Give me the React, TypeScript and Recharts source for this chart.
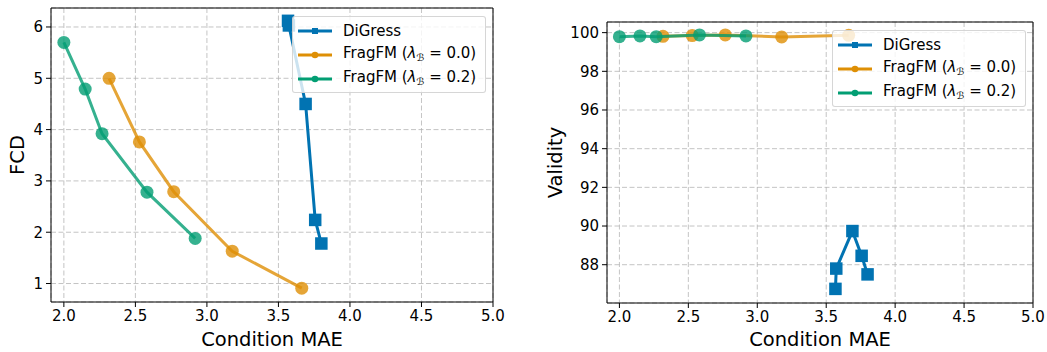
import React from "react";
import { ScatterChart, Scatter, XAxis, YAxis, CartesianGrid, ReferenceArea, Legend } from "recharts";

const FONT = "'DejaVu Sans', sans-serif";

// shared x axis (Condition MAE)
const maeTicks = [2.0, 2.5, 3.0, 3.5, 4.0, 4.5, 5.0];
const maeDomain = [1.91, 5.0];

const fcdTicks = [1, 2, 3, 4, 5, 6];
const fcdDomain = [0.64, 6.37];

const validityTicks = [88, 90, 92, 94, 96, 98, 100];
const validityDomain = [86.02, 100.55];

// DiGress
const digressMae = [3.567, 3.573, 3.69, 3.757, 3.8];
const digressFcd = [6.12, 6.03, 4.5, 2.24, 1.78];
const digressValidity = [86.75, 87.8, 89.74, 88.46, 87.5];

// FragFM, lambda_B = 0.0
const frag00Mae = [2.316, 2.528, 2.768, 3.177, 3.663];
const frag00Fcd = [5.0, 3.76, 2.79, 1.63, 0.91];
const frag00Validity = [99.81, 99.85, 99.88, 99.78, 99.86];

// FragFM, lambda_B = 0.2
const frag02Mae = [2.0, 2.149, 2.267, 2.581, 2.918];
const frag02Fcd = [5.7, 4.79, 3.92, 2.78, 1.88];
const frag02Validity = [99.79, 99.83, 99.79, 99.88, 99.83];

type Marker = "square" | "circle";

interface SeriesDef {
  key: string;
  label: React.ReactNode;
  color: string;
  alpha: number;
  marker: Marker;
  mae: number[];
  fcd: number[];
  validity: number[];
}

const lambdaLabel = (v: string) => (
  <span>
    FragFM (<i>λ</i>
    <sub style={{ fontSize: 10, verticalAlign: -3 }}>ℬ</sub>
    {" = " + v + ")"}
  </span>
);

const series: SeriesDef[] = [
  { key: "digress", label: "DiGress", color: "#0173B2", alpha: 1, marker: "square", mae: digressMae, fcd: digressFcd, validity: digressValidity },
  { key: "frag00", label: lambdaLabel("0.0"), color: "#DE8F05", alpha: 0.8, marker: "circle", mae: frag00Mae, fcd: frag00Fcd, validity: frag00Validity },
  { key: "frag02", label: lambdaLabel("0.2"), color: "#029E73", alpha: 0.8, marker: "circle", mae: frag02Mae, fcd: frag02Fcd, validity: frag02Validity },
];

const toPoints = (xs: number[], ys: number[]) => xs.map((x, i) => ({ x, y: ys[i] }));

const markerShape = (s: SeriesDef) => (props: any) => {
  const { cx, cy } = props;
  if (cx == null || cy == null) return <g />;
  if (s.marker === "square") {
    return <rect x={cx - 6.25} y={cy - 6.25} width={12.5} height={12.5} fill={s.color} fillOpacity={s.alpha} />;
  }
  return <circle cx={cx} cy={cy} r={6.5} fill={s.color} fillOpacity={s.alpha} />;
};

const LegendBox = () => (
  <div
    style={{
      width: 194,
      height: 77,
      boxSizing: "border-box",
      background: "rgba(255,255,255,0.8)",
      border: "1px solid rgba(204,204,204,0.8)",
      borderRadius: 3,
      fontFamily: FONT,
      fontSize: 15,
      color: "#000",
      paddingTop: 2,
    }}
  >
    {series.map((s) => (
      <div key={s.key} style={{ display: "flex", alignItems: "center", height: 24 }}>
        <svg width={50} height={14} style={{ flex: "none" }}>
          <line x1={5} x2={39} y1={7} y2={7} stroke={s.color} strokeWidth={3} />
          {s.marker === "square" ? (
            <rect x={19} y={4} width={6} height={6} fill={s.color} />
          ) : (
            <circle cx={22} cy={7} r={3.3} fill={s.color} />
          )}
        </svg>
        <span style={{ whiteSpace: "nowrap", lineHeight: "16px" }}>{s.label}</span>
      </div>
    ))}
  </div>
);

interface PanelProps {
  metric: "fcd" | "validity";
  yLabel: string;
  yTicks: number[];
  yDomain: number[];
  yAxisWidth: number;
  marginTop: number;
  marginRight: number;
  xAxisHeight: number;
  yLabelX: number;
}

const tickStyle = { fontSize: 15, fill: "#000", fontFamily: FONT };

const Panel: React.FC<PanelProps> = ({ metric, yLabel, yTicks, yDomain, yAxisWidth, marginTop, marginRight, xAxisHeight, yLabelX }) => {
  const width = 520;
  const height = 352;
  const plotRight = width - marginRight;
  return (
    <ScatterChart width={width} height={height} margin={{ top: marginTop, right: marginRight, bottom: 0, left: 0 }}>
      <CartesianGrid stroke="#b0b0b0" strokeOpacity={0.75} strokeDasharray="5 2.5" />
      <XAxis
        type="number"
        dataKey="x"
        domain={maeDomain}
        ticks={maeTicks}
        interval={0}
        allowDataOverflow
        tickFormatter={(v: number) => v.toFixed(1)}
        tick={tickStyle}
        tickLine={{ stroke: "#000" }}
        tickSize={5}
        tickMargin={3}
        axisLine={false}
        height={xAxisHeight}
        label={{
          content: (p: any) => {
            const vb = p.viewBox || {};
            return (
              <text x={vb.x + vb.width / 2} y={339} textAnchor="middle" dominantBaseline="central" fontSize={19.5} fontFamily={FONT} fill="#000">
                Condition MAE
              </text>
            );
          },
        }}
      />
      <YAxis
        type="number"
        dataKey="y"
        domain={yDomain}
        ticks={yTicks}
        interval={0}
        allowDataOverflow
        tick={tickStyle}
        tickLine={{ stroke: "#000" }}
        tickSize={5}
        tickMargin={3}
        axisLine={false}
        width={yAxisWidth}
        label={{
          content: (p: any) => {
            const vb = p.viewBox || {};
            const cy = vb.y + vb.height / 2;
            return (
              <text x={yLabelX} y={cy} transform={`rotate(-90 ${yLabelX} ${cy})`} textAnchor="middle" dominantBaseline="central" fontSize={19.5} fontFamily={FONT} fill="#000">
                {yLabel}
              </text>
            );
          },
        }}
      />
      <ReferenceArea x1={maeDomain[0]} x2={maeDomain[1]} y1={yDomain[0]} y2={yDomain[1]} fill="none" stroke="#000" strokeWidth={1} />
      {series.map((s) => (
        <Scatter
          key={s.key}
          name={s.key}
          data={toPoints(s.mae, s[metric])}
          fill={s.color}
          line={{ stroke: s.color, strokeWidth: 3, strokeOpacity: s.alpha }}
          lineType="joint"
          shape={markerShape(s)}
          isAnimationActive={false}
        />
      ))}
      <Legend
        layout="horizontal"
        verticalAlign="middle"
        align="center"
        content={() => <LegendBox />}
        wrapperStyle={{ position: "absolute", top: marginTop + 8, left: plotRight - 7 - 194, width: 194, height: 77 }}
      />
    </ScatterChart>
  );
};

export default function App() {
  return (
    <div style={{ position: "absolute", left: 0, top: 0, width: 1047, height: 352, background: "#fff" }}>
      <div style={{ position: "absolute", left: 0, top: 0 }}>
        <Panel metric="fcd" yLabel="FCD" yTicks={fcdTicks} yDomain={fcdDomain} yAxisWidth={51} marginTop={8} marginRight={27} xAxisHeight={50} yLabelX={17} />
      </div>
      <div style={{ position: "absolute", left: 527, top: 0 }}>
        <Panel metric="validity" yLabel="Validity" yTicks={validityTicks} yDomain={validityDomain} yAxisWidth={80} marginTop={22} marginRight={14} xAxisHeight={49} yLabelX={28} />
      </div>
    </div>
  );
}
